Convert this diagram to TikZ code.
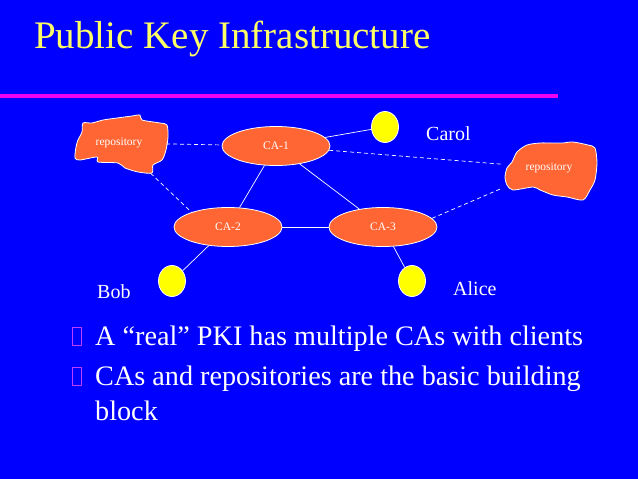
\documentclass[tikz,border=0pt]{standalone}
\usepackage{fontspec}
\setmainfont{Liberation Serif}
\usetikzlibrary{shapes.geometric}
\definecolor{bg}{RGB}{0,0,255}
\definecolor{caorange}{RGB}{255,102,51}
\definecolor{titleyellow}{RGB}{255,255,102}
\definecolor{rulecol}{RGB}{240,0,240}
\definecolor{bulletc}{RGB}{190,60,255}
\definecolor{clientcol}{RGB}{255,255,0}
\begin{document}
\begin{tikzpicture}[x=1pt,y=-1pt,
  ca/.style={ellipse, draw=white, line width=0.8pt, fill=caorange, minimum width=108pt, minimum height=39pt, inner sep=0pt, text=white, font=\fontsize{11.5}{13}\selectfont},
  clientnode/.style={ellipse, draw=white, line width=0.8pt, fill=clientcol, minimum width=27pt, minimum height=31pt, inner sep=0pt},
  repo/.style={rectangle, minimum width=94pt, minimum height=60pt, inner sep=0pt, text=white, font=\fontsize{11.5}{13}\selectfont},
  cloudshape/.style={draw=white, line width=0.8pt, fill=caorange},
  link/.style={draw=white, line width=0.7pt},
  dlink/.style={link, dash pattern=on 4pt off 3pt},
  person/.style={text=white, font=\fontsize{20}{24}\selectfont, anchor=base west, inner sep=0pt},
  bullettext/.style={text=white, font=\fontsize{28.2}{34}\selectfont, anchor=base west, inner sep=0pt},
  bulletbox/.style={draw=bulletc, line width=0.8pt}
]
\fill[bg] (0,0) rectangle (638,479);
\useasboundingbox (0,0) rectangle (638,479);

% title and rule
\node[text=titleyellow, font=\fontsize{39}{44}\selectfont, anchor=base west, inner sep=0pt] (title) at (34,48) {Public Key Infrastructure};
\fill[rulecol] (0,94) rectangle (558,98);

% repository clouds
\draw[cloudshape] plot[smooth cycle, tension=0.45] coordinates {
  (83,123) (92,123) (103,120) (117,118) (132,116) (140,115) (142,120) (160,123) (167,125)
  (168,137) (166,150) (162,160) (153,165) (152,173) (138,172) (125,168) (118,163)
  (98,162) (97,157) (80,160) (75,158) (76,147) (78,140) (82,132)};
\draw[cloudshape] plot[smooth cycle, tension=0.45] coordinates {
  (512,162) (517,152) (527,145) (540,143) (553,143) (563,143) (573,142) (588,145) (595,148)
  (597,163) (595,180) (590,190) (583,200) (567,197) (553,195) (540,190) (533,187)
  (513,190) (507,185) (505,177) (507,168)};
\node[repo] (repoL) at (119,143) {repository};
\node[repo] (repoR) at (549,168) {repository};

% CAs
\node[ca] (ca1) at (276,146) {CA-1};
\node[ca] (ca2) at (228,227) {CA-2};
\node[ca] (ca3) at (383,227) {CA-3};

% clients
\node[clientnode] (carolc) at (385,127) {};
\node[clientnode] (bobc) at (172,281) {};
\node[clientnode] (alicec) at (412,281) {};

\node[person] (carol) at (426,140) {Carol};
\node[person] (bob) at (97,298) {Bob};
\node[person] (alice) at (453,295) {Alice};

% solid links
\draw[link] (ca1) -- (ca2);
\draw[link] (ca1) -- (ca3);
\draw[link] (ca2) -- (ca3);
\draw[link] (ca2) -- (bobc);
\draw[link] (ca3) -- (alicec);
\draw[link] (ca1) -- (carolc);

% dashed links to repositories
\draw[dlink] (repoL) -- (ca1);
\draw[dlink] (repoL) -- (ca2.158);
\draw[dlink] (ca1) -- (repoR);
\draw[dlink] (ca3.10) -- (repoR);

% bullets
\draw[bulletbox] (72,327) rectangle (81,345);
\draw[bulletbox] (72,367) rectangle (81,385);
\node[bullettext] (b1) at (95,345) {A “real” PKI has multiple CAs with clients};
\node[bullettext] (b2) at (95,385) {CAs and repositories are the basic building};
\node[bullettext] (b3) at (95,420) {block};
\end{tikzpicture}
\end{document}
